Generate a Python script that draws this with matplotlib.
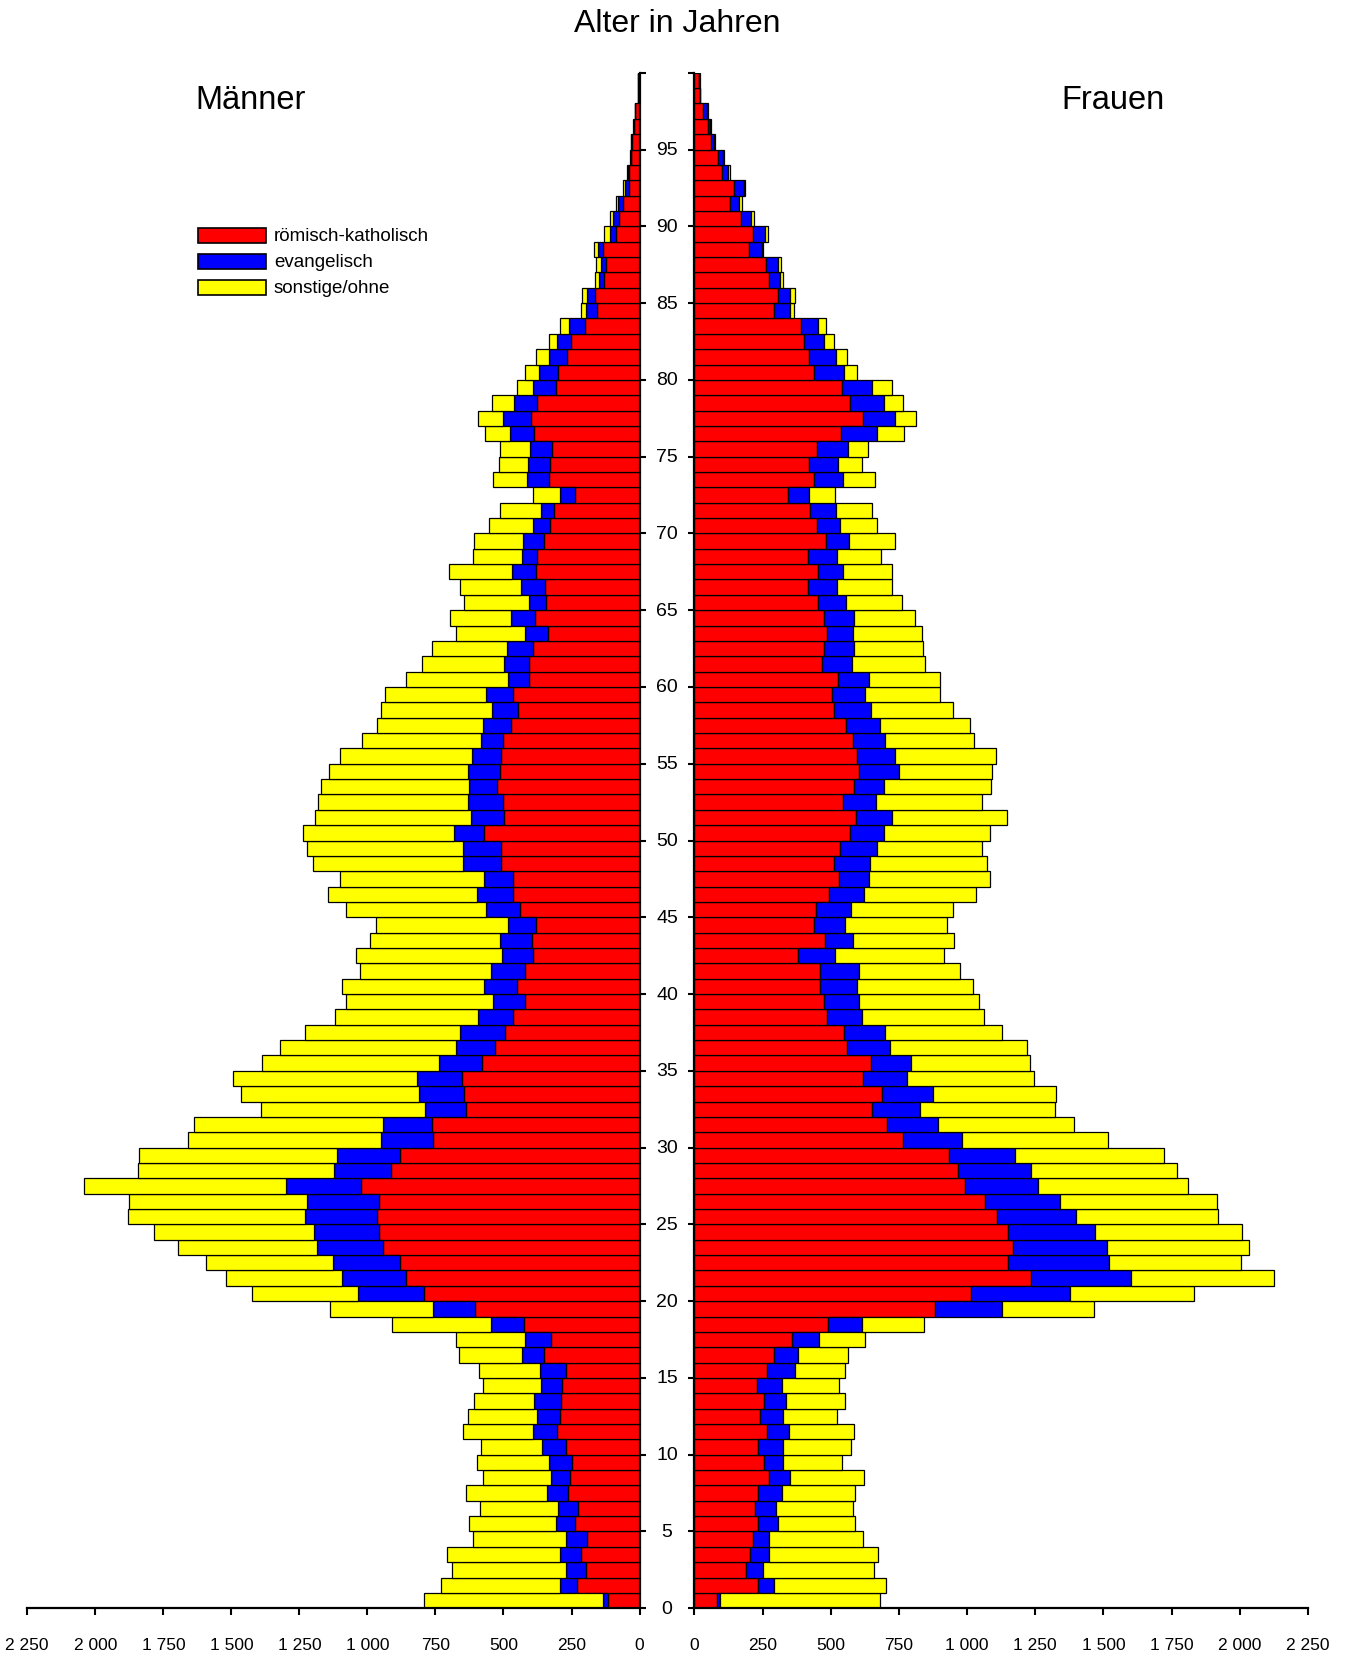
#!/usr/bin/env python3
"""Alterspyramide nach Religionszugehoerigkeit (Maenner / Frauen)."""
import matplotlib
matplotlib.use("Agg")
import matplotlib.pyplot as plt
from matplotlib.patches import Rectangle
from matplotlib.transforms import blended_transform_factory

plt.rcParams["font.family"] = ["Liberation Sans", "DejaVu Sans"]

AGES = list(range(100))

# Maenner, Alter 0..99
M_KATH = [115, 230, 197, 217, 194, 237, 227, 262, 255, 247,
          270, 302, 292, 289, 284, 270, 352, 324, 426, 605,
          791, 860, 882, 944, 959, 965, 959, 1024, 913, 879,
          759, 762, 636, 645, 653, 580, 533, 496, 464, 421,
          449, 421, 393, 396, 382, 439, 466, 464, 510, 510,
          570, 499, 502, 523, 513, 508, 501, 474, 445, 464,
          405, 405, 393, 337, 384, 342, 349, 379, 376, 352,
          328, 314, 239, 331, 328, 320, 389, 399, 376, 308,
          299, 265, 252, 200, 158, 165, 132, 122, 135, 88,
          75, 62, 40, 37, 30, 28, 20, 15, 5, 4]
M_EVANG = [18, 62, 72, 77, 77, 71, 74, 78, 69, 85,
           88, 90, 85, 100, 78, 97, 81, 97, 119, 153,
           245, 234, 246, 240, 237, 265, 262, 275, 209, 233,
           190, 181, 153, 166, 165, 158, 141, 164, 130, 119,
           122, 125, 112, 116, 103, 124, 131, 108, 139, 140,
           113, 122, 130, 105, 119, 106, 82, 103, 99, 100,
           78, 94, 93, 85, 90, 66, 87, 88, 57, 75,
           62, 47, 52, 81, 81, 84, 88, 102, 84, 85,
           71, 66, 50, 59, 40, 29, 18, 21, 19, 22,
           22, 19, 12, 6, 3, 2, 2, 1, 1, 1]
M_SONST = [660, 439, 420, 412, 342, 317, 286, 299, 253, 267,
           225, 256, 253, 218, 215, 222, 231, 255, 365, 379,
           389, 425, 467, 511, 589, 651, 654, 741, 722, 729,
           710, 695, 601, 654, 676, 650, 647, 570, 526, 538,
           521, 483, 538, 480, 482, 517, 548, 530, 552, 573,
           554, 573, 551, 544, 508, 485, 437, 389, 407, 370,
           377, 302, 277, 253, 224, 237, 224, 233, 180, 180,
           165, 152, 100, 127, 108, 109, 90, 94, 84, 57,
           52, 50, 32, 34, 19, 16, 12, 16, 13, 19,
           10, 7, 9, 3, 2, 1, 1, 1, 1, 2]

# Frauen, Alter 0..99
F_KATH = [81, 233, 189, 204, 213, 233, 221, 234, 273, 255,
          234, 266, 240, 254, 228, 267, 293, 357, 488, 881,
          1016, 1235, 1151, 1170, 1151, 1110, 1065, 992, 968, 935,
          765, 707, 653, 687, 620, 648, 561, 549, 486, 474,
          462, 461, 381, 479, 440, 444, 494, 530, 513, 534,
          570, 594, 545, 585, 603, 596, 582, 557, 513, 503,
          525, 467, 476, 486, 474, 452, 416, 452, 417, 483,
          449, 425, 344, 440, 420, 448, 538, 618, 570, 540,
          438, 421, 400, 390, 292, 306, 273, 263, 200, 213,
          171, 129, 144, 102, 86, 62, 48, 33, 20, 15]
F_EVANG = [12, 59, 63, 68, 59, 72, 77, 86, 78, 68,
           90, 80, 83, 81, 93, 100, 87, 98, 128, 246,
           360, 366, 368, 342, 320, 290, 275, 269, 266, 242,
           215, 185, 173, 189, 158, 146, 158, 150, 129, 131,
           135, 141, 134, 102, 114, 131, 129, 111, 132, 134,
           126, 132, 122, 110, 146, 138, 116, 123, 134, 123,
           117, 110, 110, 96, 111, 105, 107, 93, 107, 83,
           86, 96, 75, 104, 105, 117, 132, 116, 126, 111,
           111, 98, 74, 63, 57, 43, 42, 43, 48, 46,
           36, 33, 39, 22, 18, 10, 9, 12, 0, 0]
F_SONST = [588, 411, 405, 401, 345, 285, 284, 269, 270, 218,
           252, 240, 199, 218, 209, 186, 185, 171, 227, 339,
           455, 525, 486, 521, 536, 522, 576, 548, 537, 546,
           536, 500, 495, 449, 468, 438, 501, 428, 446, 440,
           425, 372, 402, 371, 371, 372, 410, 444, 428, 387,
           389, 422, 387, 393, 342, 371, 327, 332, 300, 273,
           258, 269, 251, 252, 224, 204, 203, 180, 162, 170,
           135, 132, 96, 118, 89, 71, 98, 80, 69, 73,
           48, 40, 39, 30, 16, 21, 11, 12, 4, 11,
           12, 12, 4, 6, 4, 3, 4, 5, 0, 5]

SERIES = ["römisch-katholisch", "evangelisch", "sonstige/ohne"]
COLORS = ["#FF0000", "#0000FF", "#FFFF00"]
X_TICKS = [0, 250, 500, 750, 1000, 1250, 1500, 1750, 2000, 2250]
AGE_LABELS = list(range(0, 100, 5))


def fmt(v):
    return f"{v:,}".replace(",", " ")


def draw_side(ax, kath, evang, sonst):
    left = [0] * len(AGES)
    for vals, color in zip([kath, evang, sonst], COLORS):
        ax.barh(AGES, vals, left=left, height=1.0, align="edge",
                color=color, edgecolor="black", linewidth=0.9)
        left = [a + b for a, b in zip(left, vals)]
    ax.set_ylim(0, 100)
    ax.set_yticks(range(0, 101, 5))
    ax.set_xticks(X_TICKS)
    ax.set_xticklabels([fmt(v) for v in X_TICKS])
    ax.spines["top"].set_visible(False)
    ax.tick_params(axis="x", direction="out", length=5, width=1.5,
                   labelsize=12.5, pad=16)
    ax.tick_params(axis="y", direction="out", length=4, width=1.5)
    for s in ax.spines.values():
        s.set_linewidth(1.6)


fig = plt.figure(figsize=(13.49, 16.58), dpi=100)
ax_l = fig.add_axes([0.0202, 0.0294, 0.4539, 0.9261])
ax_r = fig.add_axes([0.5148, 0.0294, 0.4547, 0.9261])

draw_side(ax_l, M_KATH, M_EVANG, M_SONST)
ax_l.set_xlim(2250, 0)
ax_l.spines["left"].set_visible(False)
ax_l.yaxis.tick_right()
ax_l.tick_params(axis="y", labelright=False)

draw_side(ax_r, F_KATH, F_EVANG, F_SONST)
ax_r.set_xlim(0, 2250)
ax_r.spines["right"].set_visible(False)
ax_r.tick_params(axis="y", labelleft=False)

# Altersbeschriftung in der Mitte
tr = blended_transform_factory(fig.transFigure, ax_l.transData)
for a in AGE_LABELS:
    fig.text(0.4944, a, str(a), transform=tr, ha="center", va="center",
             fontsize=14)

fig.text(0.502, 0.9855, "Alter in Jahren", ha="center", va="center", fontsize=23)
fig.text(0.1857, 0.9395, "Männer", ha="center", va="center", fontsize=23.5)
fig.text(0.825, 0.9395, "Frauen", ha="center", va="center", fontsize=23.5)

# Legende
box_x, box_w, box_h = 197.7 / 1349, 68.7 / 1349, 15.5 / 1658
for i, (name, color) in enumerate(zip(SERIES, COLORS)):
    yc = 1 - (236.5 + 25.9 * i) / 1658
    fig.add_artist(Rectangle((box_x, yc - box_h / 2), box_w, box_h,
                             transform=fig.transFigure, facecolor=color,
                             edgecolor="black", linewidth=1.2))
    fig.text(274 / 1349, yc, name, ha="left", va="center", fontsize=13.5)

fig.savefig("out.png", dpi=100)
